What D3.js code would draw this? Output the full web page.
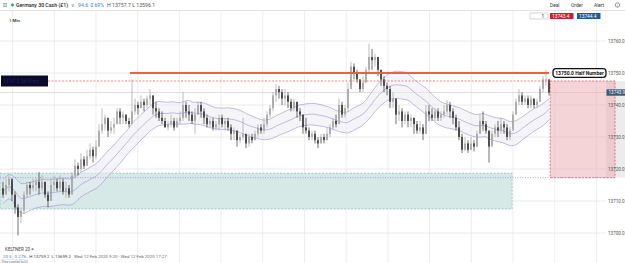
<!DOCTYPE html>
<html>
<head>
<meta charset="utf-8">
<script src="https://cdn.jsdelivr.net/npm/d3@7/dist/d3.min.js"></script>
<style>
    html, body { margin: 0; padding: 0; background: #fff; overflow: hidden; }
    svg { display: block; font-family: Roboto, "Open Sans", sans-serif; }
</style>
</head>
<body>
<div id="chart"></div>
<script>
// ===================================
// GERMANY 30 CASH, 1 MIN + KELTNER
// ===================================

// 1-minute bars, left to right (open = previous close)
const closes = [
    13712, 13715, 13717, 13712, 13708, 13705, 13707, 13712, 13715, 13714,
    13715, 13716, 13714, 13716, 13712, 13710, 13715, 13716, 13714, 13716,
    13713, 13714, 13712, 13718, 13721, 13720, 13723, 13721, 13724, 13726,
    13724, 13727, 13732, 13734, 13736, 13732, 13733, 13734, 13738, 13736,
    13737, 13735, 13734, 13738, 13740, 13739, 13741, 13740, 13742, 13743,
    13739, 13738, 13736, 13735, 13733, 13734, 13735, 13733, 13735, 13736,
    13740, 13738, 13737, 13735, 13737, 13740, 13738, 13736, 13734, 13735,
    13733, 13734, 13736, 13734, 13735, 13733, 13731, 13732, 13729, 13730,
    13731, 13728, 13730, 13729, 13731, 13733, 13732, 13734, 13737, 13739,
    13743, 13745, 13744, 13742, 13743, 13741, 13739, 13741, 13738, 13737,
    13733, 13732, 13730, 13731, 13729, 13728, 13730, 13729, 13731, 13733,
    13735, 13734, 13740, 13737, 13739, 13745, 13752, 13750, 13748, 13745,
    13747, 13751, 13755, 13754, 13755, 13751, 13748, 13746, 13745, 13741,
    13742, 13737, 13738, 13735, 13737, 13735, 13736, 13734, 13732, 13733,
    13731, 13738, 13737, 13736, 13738, 13736, 13737, 13738, 13740, 13738,
    13736, 13733, 13730, 13726, 13728, 13726, 13728, 13727, 13731, 13735,
    13734, 13732, 13727, 13731, 13733, 13732, 13734, 13733, 13730, 13732,
    13737, 13741, 13743, 13741, 13742, 13740, 13742, 13740, 13741, 13745,
    13748, 13748, 13743.9
];

const highs = [
    13716, 13717, 13718, 13716, 13713, 13709, 13708, 13713, 13716, 13716,
    13717, 13717, 13719, 13718, 13716, 13713, 13717, 13718, 13717, 13718,
    13717, 13716, 13715, 13719, 13723, 13722, 13725, 13724, 13726, 13728,
    13727, 13729, 13734, 13739, 13737, 13735, 13735, 13736, 13739, 13739,
    13738, 13737, 13736, 13748, 13742, 13741, 13743, 13742, 13743, 13745,
    13743, 13741, 13739, 13738, 13736, 13735, 13737, 13736, 13736, 13738,
    13744, 13741, 13740, 13738, 13739, 13741, 13741, 13739, 13737, 13736,
    13736, 13735, 13737, 13737, 13736, 13736, 13734, 13733, 13732, 13731,
    13736, 13731, 13731, 13731, 13732, 13734, 13734, 13736, 13738, 13740,
    13744, 13746.5, 13746, 13745, 13745, 13744, 13742, 13742, 13741, 13739,
    13737, 13736, 13733, 13732, 13732, 13730, 13731, 13731, 13733, 13734,
    13736, 13737, 13742, 13741, 13740, 13747, 13753.5, 13753, 13751, 13748,
    13749, 13752, 13759.2, 13757.5, 13756, 13755, 13751, 13749, 13747, 13746,
    13744, 13742, 13740, 13739, 13738, 13738, 13737, 13736, 13735, 13735,
    13734, 13740, 13740, 13739, 13739, 13739, 13738, 13740, 13741.5, 13741,
    13739, 13737, 13735, 13731, 13730, 13729, 13730, 13729, 13732, 13737,
    13738, 13735, 13732, 13732, 13734, 13735, 13736, 13735, 13734, 13733,
    13738, 13742, 13745, 13744, 13743, 13743, 13743, 13742, 13742, 13746,
    13749, 13751, 13748
];

const lows = [
    13711, 13712, 13713, 13710, 13706, 13699.2, 13703, 13706, 13711, 13712,
    13713, 13713, 13712, 13713, 13711, 13708, 13710, 13713, 13713, 13713,
    13712, 13711, 13711, 13713, 13717, 13718, 13719, 13720, 13721, 13723,
    13722, 13723, 13727, 13731, 13732, 13730, 13731, 13731, 13734, 13734,
    13734, 13734, 13733, 13735, 13737, 13737, 13739, 13738, 13739, 13740,
    13737, 13736, 13735, 13734, 13733, 13732, 13733, 13732, 13733, 13734,
    13735, 13736, 13735, 13734, 13731, 13737, 13736, 13734, 13733, 13733,
    13732, 13732, 13732, 13733, 13732, 13732, 13729, 13729, 13727, 13728,
    13729, 13726.5, 13727, 13728, 13729, 13730, 13731, 13731, 13733, 13736,
    13738, 13741, 13742, 13740, 13740, 13739, 13738, 13738, 13736, 13735,
    13731, 13731, 13729, 13729, 13728, 13726.5, 13728, 13728, 13729, 13730,
    13732, 13733, 13736, 13736, 13736, 13738, 13746, 13748, 13747, 13744,
    13744, 13747, 13750, 13751, 13752, 13749, 13746, 13744, 13743, 13739,
    13739, 13734, 13735, 13733, 13734, 13733, 13733, 13731, 13731, 13731,
    13729, 13731, 13735, 13735, 13735, 13735, 13735, 13736, 13737, 13736,
    13734, 13732, 13729, 13725, 13725.5, 13725, 13726, 13725.5, 13727, 13731,
    13732, 13731, 13722, 13728, 13730, 13730, 13731, 13731, 13729, 13729,
    13733, 13737, 13740, 13740, 13740, 13739, 13739, 13739, 13739, 13741,
    13744, 13746, 13743
];

// Price axis
const priceTicks = [13700, 13710, 13720, 13730, 13740, 13750, 13760];

// Drawn levels / zones (prices and bar indexes)
const halfNumber = 13750;
const halfNumberStart = 42.3;
const entryLevel = 13747.5;
const stopLevel = 13717.3;
const supportZone = [13707.5, 13718.7];
const supportZoneEnd = 169.7;
const riskBoxBars = [182.4, 204];
const keltnerPeriod = 20;
const keltnerMult = 0.75;

// Header / footer texts
const instrument = 'Germany 30 Cash (£1)';
const dayChange = ['94.6', '0.69%'];
const dayRange = 'H 13757.7  L 13596.1';
const sellPrice = '13743.4';
const buyPrice = '13744.4';
const footerStats = ['20.5', '0.27%', 'H 13759.2', 'L 13699.2', 'Wed 12 Feb 2020 9:20 - Wed 12 Feb 2020 17:27'];

class ChartManager {
    constructor() {
        this.width = 625;
        this.height = 263;
        this.plotRight = 606;
        this.bars = closes.map((c, i) => ({
            i,
            o: i === 0 ? 13714 : closes[i - 1],
            h: highs[i],
            l: lows[i],
            c
        }));
        this.x = d3.scaleLinear().domain([0, closes.length - 1]).range([3, 549]);
        this.y = d3.scaleLinear().domain([13700, 13760]).range([233, 41]);
        this.render();
    }

    render() {
        this.svg = d3.select('#chart')
            .append('svg')
            .attr('width', this.width)
            .attr('height', this.height);

        this.drawGrid();
        this.drawZones();
        this.drawKeltner();
        this.drawCandles();
        this.drawLevels();
        this.drawAxis();
        this.drawHeader();
        this.drawFooter();
    }

    drawGrid() {
        const g = this.svg.append('g');
        const vx = d3.range(3.2, 210, 13.9).map(this.x).filter(v => v < this.plotRight);

        g.selectAll('line.v')
            .data(vx)
            .join('line')
            .attr('x1', d => d).attr('x2', d => d)
            .attr('y1', 10).attr('y2', this.height)
            .attr('stroke', '#e6e6e6')
            .attr('stroke-width', 0.7);

        g.selectAll('line.h')
            .data(priceTicks)
            .join('line')
            .attr('x1', 0).attr('x2', this.plotRight)
            .attr('y1', d => this.y(d)).attr('y2', d => this.y(d))
            .attr('stroke', '#e3e3e3')
            .attr('stroke-width', 0.7);

        // текущая цена
        const last = closes[closes.length - 1];
        g.append('line')
            .attr('x1', 0).attr('x2', this.plotRight)
            .attr('y1', this.y(last)).attr('y2', this.y(last))
            .attr('stroke', '#d4d4d4')
            .attr('stroke-width', 0.8);
    }

    drawZones() {
        const g = this.svg.append('g');

        // axis highlight for the risk box
        g.append('rect')
            .attr('x', this.plotRight).attr('width', this.width - this.plotRight)
            .attr('y', this.y(entryLevel))
            .attr('height', this.y(stopLevel) - this.y(entryLevel))
            .attr('fill', '#ececec');

        // support zone
        g.append('rect')
            .attr('x', 0)
            .attr('width', this.x(supportZoneEnd))
            .attr('y', this.y(supportZone[1]))
            .attr('height', this.y(supportZone[0]) - this.y(supportZone[1]))
            .attr('fill', '#d6e9e7')
            .attr('stroke', '#84b9b4')
            .attr('stroke-width', 0.7)
            .attr('stroke-dasharray', '2,1.5');

        // risk box
        g.append('rect')
            .attr('x', this.x(riskBoxBars[0]))
            .attr('width', this.x(riskBoxBars[1]) - this.x(riskBoxBars[0]))
            .attr('y', this.y(entryLevel))
            .attr('height', this.y(stopLevel) - this.y(entryLevel))
            .attr('fill', '#eaa9b0')
            .attr('fill-opacity', 0.5)
            .attr('stroke', '#de5566')
            .attr('stroke-width', 0.8)
            .attr('stroke-dasharray', '2,1.5');
    }

    drawKeltner() {
        const n = keltnerPeriod;
        const band = this.bars.map((b, i) => {
            const win = this.bars.slice(Math.max(0, i - n + 1), i + 1);
            const mid = d3.mean(win, d => (d.h + d.l + d.c) / 3);
            const rng = d3.mean(win, d => d.h - d.l) * keltnerMult;
            return { i, mid, up: mid + rng, lo: mid - rng };
        });

        const g = this.svg.append('g');

        g.append('path')
            .datum(band)
            .attr('d', d3.area().x(d => this.x(d.i)).y0(d => this.y(d.lo)).y1(d => this.y(d.up)))
            .attr('fill', '#ececf3')
            .attr('fill-opacity', 0.5);

        ['up', 'mid', 'lo'].forEach(k => {
            g.append('path')
                .datum(band)
                .attr('d', d3.line().x(d => this.x(d.i)).y(d => this.y(d[k])))
                .attr('fill', 'none')
                .attr('stroke', '#9894c6')
                .attr('stroke-width', 0.6);
        });
    }

    drawCandles() {
        const g = this.svg.append('g');
        const color = d => d.c >= d.o ? '#a2a2a2' : '#353535';

        g.selectAll('line')
            .data(this.bars)
            .join('line')
            .attr('x1', d => this.x(d.i)).attr('x2', d => this.x(d.i))
            .attr('y1', d => this.y(d.h)).attr('y2', d => this.y(d.l))
            .attr('stroke', color)
            .attr('stroke-width', 0.7);

        g.selectAll('rect')
            .data(this.bars)
            .join('rect')
            .attr('x', d => this.x(d.i) - 0.8)
            .attr('width', 1.6)
            .attr('y', d => this.y(Math.max(d.o, d.c)))
            .attr('height', d => Math.max(0.8, Math.abs(this.y(d.o) - this.y(d.c))))
            .attr('fill', color);
    }

    drawLevels() {
        const g = this.svg.append('g');
        const lastX = this.x(closes.length - 1);

        // dotted stop line
        g.append('line')
            .attr('x1', 0).attr('x2', this.x(riskBoxBars[1]))
            .attr('y1', this.y(stopLevel)).attr('y2', this.y(stopLevel))
            .attr('stroke', '#9d92d6')
            .attr('stroke-width', 0.8)
            .attr('stroke-dasharray', '1,1.5');

        // dashed entry line
        g.append('line')
            .attr('x1', 48).attr('x2', this.x(riskBoxBars[0]))
            .attr('y1', this.y(entryLevel)).attr('y2', this.y(entryLevel))
            .attr('stroke', '#de5566')
            .attr('stroke-width', 0.7)
            .attr('stroke-dasharray', '2,1.5');

        // left dark label
        g.append('rect')
            .attr('x', 1).attr('y', this.y(entryLevel) - 5.5)
            .attr('width', 47).attr('height', 11)
            .attr('fill', '#0a0a2c');
        g.append('text')
            .attr('x', 3).attr('y', this.y(entryLevel) + 1.6)
            .attr('font-size', 4.5)
            .attr('fill', '#1a2560')
            .text('13747.5 Sell Entry');

        // half number line
        g.append('line')
            .attr('x1', this.x(halfNumberStart)).attr('x2', lastX)
            .attr('y1', this.y(halfNumber)).attr('y2', this.y(halfNumber))
            .attr('stroke', '#f0603e')
            .attr('stroke-width', 2);

        const lbl = g.append('g').attr('transform', `translate(${lastX + 4},${this.y(halfNumber)})`);
        lbl.append('rect')
            .attr('x', 0).attr('y', -4.3)
            .attr('width', 53).attr('height', 8.6)
            .attr('rx', 3)
            .attr('fill', '#fff')
            .attr('stroke', '#111')
            .attr('stroke-width', 1.3);
        lbl.append('text')
            .attr('x', 26.5).attr('y', 1.9)
            .attr('text-anchor', 'middle')
            .attr('font-size', 5)
            .attr('font-weight', 'bold')
            .attr('fill', '#111')
            .text('13750.0 Half Number');
    }

    drawAxis() {
        const g = this.svg.append('g');
        const axis = d3.axisRight(this.y)
            .tickValues(priceTicks)
            .tickFormat(d3.format('.1f'))
            .tickSize(0)
            .tickPadding(2);

        g.attr('transform', `translate(${this.plotRight},0)`)
            .call(axis)
            .call(a => a.select('.domain').remove())
            .selectAll('text')
            .attr('font-size', 4.6)
            .attr('fill', '#555')
            .attr('font-family', 'Roboto, sans-serif');

        const last = closes[closes.length - 1];
        this.svg.append('rect')
            .attr('x', 606.5).attr('y', this.y(last) - 3.2)
            .attr('width', 18.5).attr('height', 6.4)
            .attr('fill', '#3c5877');
        this.svg.append('text')
            .attr('x', 608.5).attr('y', this.y(last) + 1.6)
            .attr('font-size', 4.6)
            .attr('fill', '#fff')
            .text(d3.format('.1f')(last));
    }

    drawHeader() {
        const g = this.svg.append('g');

        g.append('rect').attr('x', 0).attr('y', 0).attr('width', this.width).attr('height', 10).attr('fill', '#fff');
        g.append('line')
            .attr('x1', 0).attr('x2', this.width)
            .attr('y1', 10.5).attr('y2', 10.5)
            .attr('stroke', '#dcdcdc')
            .attr('stroke-width', 0.8);

        // меню
        [3.5, 5, 6.5].forEach(yy => {
            g.append('line')
                .attr('x1', 3).attr('x2', 7)
                .attr('y1', yy).attr('y2', yy)
                .attr('stroke', '#777')
                .attr('stroke-width', 0.6);
        });
        g.append('circle').attr('cx', 12.5).attr('cy', 5).attr('r', 1.4).attr('fill', '#1aa84a');

        const t = g.append('text').attr('x', 16).attr('y', 6.8).attr('font-size', 5.2);
        t.append('tspan').attr('fill', '#222').attr('font-weight', 500).text(instrument);
        t.append('tspan').attr('fill', '#777').attr('dx', 3).text('∨');
        t.append('tspan').attr('fill', '#3a7fd0').attr('dx', 3).text(dayChange[0]);
        t.append('tspan').attr('fill', '#3a7fd0').attr('dx', 2).text(dayChange[1]);
        t.append('tspan').attr('fill', '#555').attr('dx', 3).text(dayRange);

        // deal / order / alert
        [['Deal', 550], ['Order', 571], ['Alert', 594]].forEach(([txt, xx]) => {
            g.append('text')
                .attr('x', xx).attr('y', 6.8)
                .attr('font-size', 4.8)
                .attr('fill', '#333')
                .text(txt);
        });
        g.append('circle').attr('cx', 617.5).attr('cy', 5).attr('r', 2.2)
            .attr('fill', 'none').attr('stroke', '#555').attr('stroke-width', 0.6);
        g.append('text').attr('x', 617.5).attr('y', 6.5).attr('font-size', 3.6)
            .attr('text-anchor', 'middle').attr('fill', '#555').text('i');

        // size input + prices
        g.append('rect')
            .attr('x', 530).attr('y', 13).attr('width', 18).attr('height', 6)
            .attr('fill', '#fff').attr('stroke', '#aaa').attr('stroke-width', 0.5);
        g.append('text').attr('x', 544).attr('y', 17.8).attr('font-size', 4.6)
            .attr('text-anchor', 'end').attr('fill', '#222').text('1');

        [[sellPrice, 550, '#c8202e'], [buyPrice, 577, '#1f5a9c']].forEach(([txt, xx, col]) => {
            g.append('rect')
                .attr('x', xx).attr('y', 13).attr('width', 23.5).attr('height', 6)
                .attr('fill', col);
            g.append('text')
                .attr('x', xx + 2).attr('y', 17.9)
                .attr('font-size', 4.8)
                .attr('fill', '#fff')
                .text(txt);
        });

        g.append('text').attr('x', 9).attr('y', 21.5)
            .attr('font-size', 4.4).attr('font-weight', 500).attr('fill', '#222').text('1 Min');
    }

    drawFooter() {
        const g = this.svg.append('g');

        g.append('text').attr('x', 5).attr('y', 251)
            .attr('font-size', 4.6).attr('fill', '#444')
            .text('KELTNER  20  ×');

        const t = g.append('text').attr('x', 3).attr('y', 257.8).attr('font-size', 4.4);
        t.append('tspan').attr('fill', '#3a7fd0').text(footerStats[0]);
        t.append('tspan').attr('fill', '#3a7fd0').attr('dx', 3).text(footerStats[1]);
        t.append('tspan').attr('fill', '#444').attr('dx', 3).text(footerStats[2]);
        t.append('tspan').attr('fill', '#444').attr('dx', 2).text(footerStats[3]);
        t.append('tspan').attr('fill', '#666').attr('dx', 3).text(footerStats[4]);

        g.append('rect').attr('x', 1).attr('y', 259.5).attr('width', 24).attr('height', 4)
            .attr('fill', '#fff').attr('stroke', '#ccc').attr('stroke-width', 0.4);
        g.append('text').attr('x', 2).attr('y', 262.6)
            .attr('font-size', 3).attr('fill', '#777').text('Data supplied by IG');
    }
}

let chartManager;
document.addEventListener('DOMContentLoaded', () => {
    if (typeof d3 !== 'undefined') {
        chartManager = new ChartManager();
    }
});
</script>
</body>
</html>
